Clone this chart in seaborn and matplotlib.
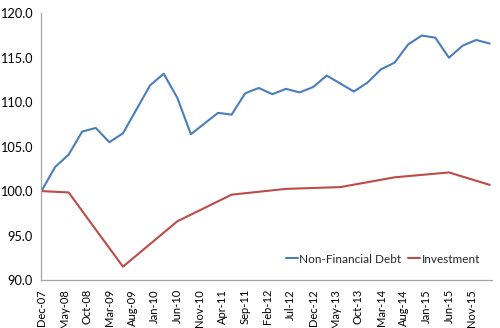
import matplotlib
matplotlib.use("Agg")
import matplotlib.pyplot as plt
import seaborn as sns
import pandas as pd
import numpy as np

# ---- data ----
debt_dates = ["2007-12", "2008-03", "2008-06", "2008-09", "2008-12", "2009-03", "2009-06",
              "2009-09", "2009-12", "2010-03", "2010-06", "2010-09", "2010-12", "2011-03",
              "2011-06", "2011-09", "2011-12", "2012-03", "2012-06", "2012-09", "2012-12",
              "2013-03", "2013-06", "2013-09", "2013-12", "2014-03", "2014-06", "2014-09",
              "2014-12", "2015-03", "2015-06", "2015-09", "2015-12", "2016-03"]
debt_values = [100.0, 102.7, 104.1, 106.7, 107.1, 105.5, 106.5,
               109.2, 111.9, 113.2, 110.5, 106.4, 107.6, 108.8,
               108.6, 111.0, 111.6, 110.9, 111.5, 111.1, 111.7,
               113.0, 112.1, 111.2, 112.2, 113.7, 114.45, 116.5,
               117.5, 117.25, 115.0, 116.35, 117.0, 116.6]

inv_dates = ["2007-12", "2008-06", "2009-06", "2010-06", "2011-06", "2012-06",
             "2013-06", "2014-06", "2015-06", "2016-03"]
inv_values = [100.0, 99.85, 91.5, 96.6, 99.6, 100.25, 100.45, 101.55, 102.1, 100.7]

tick_labels = ["Dec-07", "May-08", "Oct-08", "Mar-09", "Aug-09", "Jan-10", "Jun-10",
               "Nov-10", "Apr-11", "Sep-11", "Feb-12", "Jul-12", "Dec-12", "May-13",
               "Oct-13", "Mar-14", "Aug-14", "Jan-15", "Jun-15", "Nov-15"]
y_ticks = [90, 95, 100, 105, 110, 115, 120]

series_names = ["Non-Financial Debt", "Investment"]
colors = ["#4A7EBB", "#BE4B48"]

# ---- helpers ----
base = pd.Timestamp("2007-12-01")
def to_months(ds):
    d = pd.to_datetime(ds)
    return [(x.year - base.year) * 12 + (x.month - base.month) for x in d]

debt_df = pd.DataFrame({"m": to_months(debt_dates), "v": debt_values})
inv_df = pd.DataFrame({"m": to_months(inv_dates), "v": inv_values})
tick_pos = to_months(pd.to_datetime(tick_labels, format="%b-%y"))

sns.set_style("white")
plt.rcParams["font.family"] = ["Lato", "DejaVu Sans"]

fig = plt.figure(figsize=(5.0, 3.28), dpi=100)
ax = fig.add_axes([0.082, 0.1463, 0.901, 0.8132])

sns.lineplot(data=debt_df, x="m", y="v", color=colors[0], linewidth=1.5,
             label=series_names[0], ax=ax)
sns.lineplot(data=inv_df, x="m", y="v", color=colors[1], linewidth=1.5,
             label=series_names[1], ax=ax)

ax.set_xlim(-0.1, 99.4)
ax.set_ylim(90, 120)
ax.set_yticks(y_ticks)
ax.set_yticklabels([f"{v:.1f}" for v in y_ticks], fontsize=9.2)
ax.set_xticks(tick_pos)
ax.set_xticklabels(tick_labels, rotation=90, fontsize=8)
ax.set_xlabel("")
ax.set_ylabel("")

for s in ["top", "right"]:
    ax.spines[s].set_visible(False)
for s in ["left", "bottom"]:
    ax.spines[s].set_color("#A6A6A6")
    ax.spines[s].set_linewidth(0.9)
ax.tick_params(axis="both", which="major", direction="out", length=4,
               width=0.9, color="#A6A6A6", labelcolor="#000000", pad=2)
ax.tick_params(axis="x", length=5, pad=1.5)

leg = ax.legend(loc="center", bbox_to_anchor=(0.766, 0.21),
                bbox_transform=fig.transFigure, ncol=2, frameon=False,
                fontsize=8.5, handlelength=1.0, handletextpad=0.1,
                columnspacing=0.6)

fig.savefig("out.png", dpi=100)
